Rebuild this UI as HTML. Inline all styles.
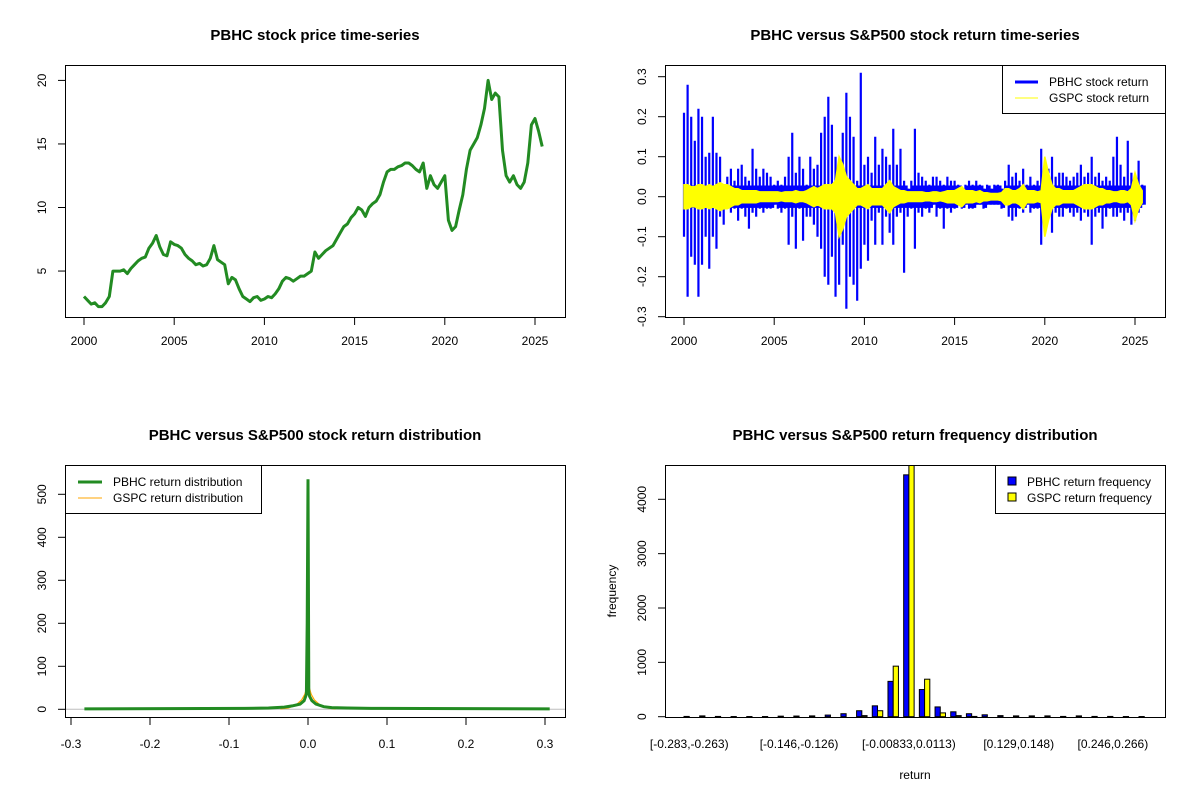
<!DOCTYPE html>
<html><head><meta charset="utf-8"><style>
body{margin:0;background:#fff;}
svg{display:block;font-family:"Liberation Sans",Arial,sans-serif;}
</style></head><body>
<svg id="c" width="1200" height="800" viewBox="0 0 1200 800" xmlns="http://www.w3.org/2000/svg">
<rect width="1200" height="800" fill="#fff"/>
</svg>
<script>
// ---------- data ----------
const priceStartYear = 2000;
const priceStep = 0.2;
const priceValues = [3.0,2.7,2.4,2.5,2.2, 2.2,2.5,3.0,5.0,5.0, 5.0,5.1,4.8,5.2,5.5, 5.8,6.0,6.1,6.8,7.2,
 7.8,6.9,6.3,6.2,7.3, 7.1,7.0,6.8,6.3,6.0, 5.8,5.5,5.6,5.4,5.5, 6.0,7.0,5.9,5.7,5.5,
 4.0,4.5,4.3,3.6,3.0, 2.8,2.6,2.9,3.0,2.7, 2.8,3.0,2.9,3.2,3.6, 4.2,4.5,4.4,4.2,4.4,
 4.6,4.6,4.8,5.0,6.5, 6.0,6.3,6.6,6.8,7.0, 7.5,8.0,8.5,8.7,9.2, 9.5,10.0,9.8,9.3,10.0,
 10.3,10.5,11.0,12.0,12.8, 13.0,13.0,13.2,13.3,13.5, 13.5,13.3,13.0,12.8,13.5, 11.5,12.5,11.8,11.5,12.0,
 12.5,9.0,8.2,8.5,9.8, 11.0,13.0,14.5,15.0,15.5, 16.5,17.8,20.0,18.5,19.0, 18.7,14.5,12.5,12.0,12.5,
 11.8,11.5,12.0,13.5,16.5, 17.0,16.0,14.8];
const retStartYear = 2000;
const retStep = 0.2;
const pbhcUp = [0.21,0.28,0.2,0.14,0.22, 0.2,0.1,0.11,0.2,0.11, 0.1,0.03,0.05,0.07,0.04, 0.07,0.08,0.05,0.04,0.12,
 0.07,0.05,0.07,0.06,0.05, 0.03,0.04,0.03,0.05,0.1, 0.16,0.06,0.1,0.07,0.03, 0.1,0.07,0.08,0.16,0.2,
 0.25,0.18,0.1,0.06,0.16, 0.26,0.2,0.15,0.04,0.31, 0.08,0.1,0.06,0.15,0.08, 0.12,0.1,0.08,0.17,0.08,
 0.12,0.04,0.02,0.04,0.17, 0.06,0.05,0.04,0.03,0.05, 0.05,0.04,0.03,0.05,0.04, 0.04,0.03,0.02,0.03,0.04,
 0.03,0.04,0.03,0.02,0.03, 0.02,0.03,0.03,0.02,0.04, 0.08,0.05,0.06,0.04,0.07, 0.03,0.05,0.03,0.04,0.12,
 0.08,0.07,0.1,0.05,0.06, 0.06,0.05,0.04,0.05,0.06, 0.08,0.05,0.06,0.1,0.05, 0.06,0.04,0.05,0.04,0.1,
 0.15,0.08,0.05,0.14,0.06, 0.05,0.09,0.03];
const pbhcDown = [-0.1,-0.25,-0.15,-0.17,-0.25, -0.17,-0.1,-0.18,-0.1,-0.13, -0.05,-0.07,-0.03,-0.04,-0.03, -0.06,-0.03,-0.05,-0.08,-0.04,
 -0.05,-0.03,-0.04,-0.03,-0.03, -0.02,-0.03,-0.04,-0.03,-0.12, -0.05,-0.13,-0.03,-0.11,-0.05, -0.05,-0.07,-0.1,-0.13,-0.2,
 -0.22,-0.15,-0.25,-0.22,-0.12, -0.28,-0.2,-0.22,-0.26,-0.18, -0.12,-0.16,-0.06,-0.12,-0.04, -0.12,-0.05,-0.09,-0.12,-0.05,
 -0.04,-0.19,-0.05,-0.03,-0.13, -0.04,-0.05,-0.03,-0.04,-0.02, -0.05,-0.03,-0.08,-0.03,-0.04, -0.03,-0.02,-0.03,-0.02,-0.03,
 -0.03,-0.02,-0.02,-0.03,-0.02, -0.02,-0.02,-0.02,-0.03,-0.02, -0.05,-0.06,-0.05,-0.03,-0.04, -0.02,-0.04,-0.03,-0.03,-0.12,
 -0.07,-0.05,-0.09,-0.04,-0.05, -0.05,-0.03,-0.04,-0.05,-0.04, -0.06,-0.04,-0.05,-0.12,-0.05, -0.04,-0.08,-0.05,-0.03,-0.05,
 -0.05,-0.04,-0.06,-0.04,-0.07, -0.06,-0.04,-0.02];
const gspcAmp = [0.03,0.03,0.025,0.025,0.03, 0.03,0.025,0.03,0.025,0.03, 0.035,0.03,0.03,0.025,0.02, 0.02,0.015,0.015,0.015,0.015,
 0.015,0.012,0.012,0.012,0.012, 0.012,0.012,0.01,0.012,0.012, 0.012,0.015,0.012,0.012,0.015, 0.02,0.025,0.02,0.025,0.03,
 0.03,0.03,0.04,0.1,0.08, 0.05,0.04,0.03,0.02,0.02, 0.025,0.03,0.02,0.02,0.02, 0.02,0.03,0.04,0.025,0.02,
 0.015,0.015,0.012,0.012,0.012, 0.012,0.012,0.01,0.01,0.012, 0.012,0.01,0.012,0.015,0.015, 0.015,0.02,0.025,0.015,0.015,
 0.015,0.012,0.015,0.01,0.01, 0.008,0.008,0.008,0.01,0.02, 0.02,0.015,0.015,0.02,0.03, 0.015,0.015,0.015,0.012,0.015,
 0.1,0.06,0.03,0.02,0.02, 0.015,0.015,0.015,0.015,0.02, 0.025,0.03,0.03,0.03,0.025, 0.02,0.02,0.015,0.015,0.012,
 0.012,0.015,0.015,0.012,0.02, 0.06,0.03,0.015];
const densPbhcX = [-0.283,-0.08,-0.05,-0.03,-0.02,-0.01,-0.005,-0.002,-0.001,0,0.0005,0.001,0.002,0.005,0.01,0.02,0.03,0.05,0.08,0.306];
const densPbhcY = [1,2,3,5,8,12,20,35,200,535,300,40,30,20,12,6,4,3,2,1];
const densGspcX = [-0.035,-0.025,-0.015,-0.008,-0.004,-0.002,0,0.002,0.004,0.008,0.015,0.025,0.035];
const densGspcY = [1,3,10,22,35,48,55,48,35,22,10,3,1];
const binLabels = ["[-0.283,-0.263)","[-0.146,-0.126)","[-0.00833,0.0113)","[0.129,0.148)","[0.246,0.266)"];
const binLabelIdx = [0,7,14,21,27];
const pbhcFreq = [5,15,5,3,3,3,10,12,15,30,55,110,200,650,4450,500,180,90,55,35,20,15,15,15,5,15,5,5,3,3];
const gspcFreq = [0,0,0,0,0,0,0,0,0,0,0,20,110,930,4650,690,70,20,5,0,0,0,0,0,0,0,0,0,0,0];

// ---------- helpers ----------
const NS="http://www.w3.org/2000/svg";
const svg=document.getElementById('c');
function mk(tag,attrs,parent){const e=document.createElementNS(NS,tag);for(const k in attrs)e.setAttribute(k,attrs[k]);(parent||svg).appendChild(e);return e;}
function txt(s,x,y,opts,parent){const t=mk('text',Object.assign({x:x,y:y,'font-size':12,'text-anchor':'middle',fill:'#000'},opts||{}),parent);t.textContent=s;return t;}

// ---------- panel 1: price ----------
(function(){
 const g=mk('g',{});
 
 
 const X=y=>84+(y-2000)*18.04, Y=v=>334.6-v*12.71;
 let t=txt('PBHC stock price time-series',315,40,{'font-size':15,'font-weight':'bold'},g);
 
 
 let pts=priceValues.map((v,i)=>X(priceStartYear+i*priceStep).toFixed(1)+','+Y(v).toFixed(1)).join(' ');
 const line=mk('polyline',{points:pts,fill:'none',stroke:'#228B22','stroke-width':3,'stroke-linejoin':'round'},g);
 
 
 const box=mk('rect',{x:65.5,y:65.5,width:500,height:252,fill:'none',stroke:'#000'},g);
 
 
 [2000,2005,2010,2015,2020,2025].forEach(yr=>{mk('line',{x1:X(yr),x2:X(yr),y1:318,y2:325,stroke:'#000'},g);const l=txt(String(yr),X(yr),345,{},g);});
 [5,10,15,20].forEach(v=>{mk('line',{x1:58,x2:65,y1:Y(v),y2:Y(v),stroke:'#000'},g);const l=txt(String(v),0,0,{transform:`translate(46,${Y(v)}) rotate(-90)`},g);});
})();

// ---------- panel 2: returns ----------
(function(){
 const g=mk('g',{});
 
 
 const X=y=>684+(y-2000)*18.04, Y=v=>196.7-v*400;
 let t=txt('PBHC versus S&P500 stock return time-series',915,40,{'font-size':15,'font-weight':'bold'},g);
 
 
 pbhcUp.forEach((u,i)=>{const x=X(retStartYear+i*retStep);
  const b=mk('line',{x1:x,x2:x,y1:Y(u),y2:Y(pbhcDown[i]),stroke:'#0000FF','stroke-width':2.2},g);
  
  
  const c=mk('rect',{x:x,y:Y(Math.min(u,0.028)),width:18.04*retStep,height:Y(Math.max(pbhcDown[i],-0.028))-Y(Math.min(u,0.028)),fill:'#0000FF'},g);
  
  
 });
 let top=gspcAmp.map((a,i)=>X(retStartYear+i*retStep).toFixed(1)+','+Y(a).toFixed(1));
 let bot=gspcAmp.map((a,i)=>X(retStartYear+i*retStep).toFixed(1)+','+Y(-a).toFixed(1)).reverse();
 const band=mk('polygon',{points:top.concat(bot).join(' '),fill:'#FFFF00',stroke:'#FFFF00','stroke-width':1.5},g);
 
 
 const box=mk('rect',{x:665.5,y:65.5,width:500,height:252,fill:'none',stroke:'#000'},g);
 
 
 [2000,2005,2010,2015,2020,2025].forEach(yr=>{mk('line',{x1:X(yr),x2:X(yr),y1:318,y2:325,stroke:'#000'},g);const l=txt(String(yr),X(yr),345,{},g);});
 [-0.3,-0.2,-0.1,0,0.1,0.2,0.3].forEach(v=>{mk('line',{x1:658,x2:665,y1:Y(v),y2:Y(v),stroke:'#000'},g);const l=txt(v.toFixed(1),0,0,{transform:`translate(646,${Y(v)}) rotate(-90)`},g);});
 const lg=mk('g',{},g);
 
 
 mk('rect',{x:1002.5,y:65.5,width:163,height:48,fill:'#fff',stroke:'#000'},lg);
 mk('line',{x1:1015,x2:1038,y1:82,y2:82,stroke:'#0000FF','stroke-width':3},lg);
 mk('line',{x1:1015,x2:1038,y1:98,y2:98,stroke:'#FFFF00','stroke-width':1},lg);
 txt('PBHC stock return',1049,86,{'text-anchor':'start'},lg);
 txt('GSPC stock return',1049,102,{'text-anchor':'start'},lg);
})();

// ---------- panel 3: density ----------
(function(){
 const g=mk('g',{});
 
 
 const X=v=>308+v*790, Y=v=>709.3-v*0.43;
 let t=txt('PBHC versus S&P500 stock return distribution',315,440,{'font-size':15,'font-weight':'bold'},g);
 
 
 const z=mk('line',{x1:66,x2:566,y1:Y(0),y2:Y(0),stroke:'#bebebe'},g);
 
 
 const gp=mk('polyline',{points:densGspcX.map((x,i)=>X(x).toFixed(1)+','+Y(densGspcY[i]).toFixed(1)).join(' '),fill:'none',stroke:'#FFA500','stroke-width':1.2},g);
 
 
 const pp=mk('polyline',{points:densPbhcX.map((x,i)=>X(x).toFixed(1)+','+Y(densPbhcY[i]).toFixed(1)).join(' '),fill:'none',stroke:'#228B22','stroke-width':3},g);
 
 
 const box=mk('rect',{x:65.5,y:465.5,width:500,height:252,fill:'none',stroke:'#000'},g);
 
 
 [-0.3,-0.2,-0.1,0,0.1,0.2,0.3].forEach(v=>{mk('line',{x1:X(v),x2:X(v),y1:718,y2:725,stroke:'#000'},g);const l=txt(v.toFixed(1),X(v),748,{},g);});
 [0,100,200,300,400,500].forEach(v=>{mk('line',{x1:58,x2:65,y1:Y(v),y2:Y(v),stroke:'#000'},g);const l=txt(String(v),0,0,{transform:`translate(46,${Y(v)}) rotate(-90)`},g);});
 const lg=mk('g',{},g);
 
 
 mk('rect',{x:65.5,y:465.5,width:196,height:48,fill:'#fff',stroke:'#000'},lg);
 mk('line',{x1:78,x2:102,y1:482,y2:482,stroke:'#228B22','stroke-width':3},lg);
 mk('line',{x1:78,x2:102,y1:498,y2:498,stroke:'#FFA500','stroke-width':1},lg);
 txt('PBHC return distribution',113,486,{'text-anchor':'start'},lg);
 txt('GSPC return distribution',113,502,{'text-anchor':'start'},lg);
})();

// ---------- panel 4: histogram ----------
(function(){
 const g=mk('g',{});
 
 
 const U=5.23, x0=684-U;
 const Y=v=>716.7-v*0.05435;
 let t=txt('PBHC versus S&P500 return frequency distribution',915,440,{'font-size':15,'font-weight':'bold'},g);
 
 
 const cp=mk('clipPath',{id:'hclip'},g);mk('rect',{x:666,y:466,width:499,height:252},cp);
 const bars=mk('g',{'clip-path':'url(#hclip)'},g);
 pbhcFreq.forEach((f,i)=>{const bx=x0+U*(1+3*i);
  const b=mk('rect',{x:bx,y:Y(f),width:U,height:Y(0)-Y(f),fill:'#0000FF',stroke:'#000','stroke-width':1},bars);
  
  
  const gv=gspcFreq[i];
  const c=mk('rect',{x:bx+U,y:Y(gv),width:U,height:Y(0)-Y(gv),fill:'#FFFF00',stroke:'#000','stroke-width':1},bars);
  
  
 });
 const box=mk('rect',{x:665.5,y:465.5,width:500,height:252,fill:'none',stroke:'#000'},g);
 
 
 binLabelIdx.forEach((bi,k)=>{const l=txt(binLabels[k],x0+U*(2+3*bi),748,{},g);});
 [0,1000,2000,3000,4000].forEach(v=>{mk('line',{x1:658,x2:665,y1:Y(v),y2:Y(v),stroke:'#000'},g);const l=txt(String(v),0,0,{transform:`translate(646,${Y(v)}) rotate(-90)`},g);});
 let xl=txt('return',915,779,{},g);
 
 
 let yl=txt('frequency',0,0,{transform:'translate(616,591) rotate(-90)'},g);
 
 
 const lg=mk('g',{},g);
 
 
 mk('rect',{x:995.5,y:465.5,width:170,height:48,fill:'#fff',stroke:'#000'},lg);
 mk('rect',{x:1008,y:477,width:8,height:8,fill:'#0000FF',stroke:'#000'},lg);
 mk('rect',{x:1008,y:493,width:8,height:8,fill:'#FFFF00',stroke:'#000'},lg);
 txt('PBHC return frequency',1027,486,{'text-anchor':'start'},lg);
 txt('GSPC return frequency',1027,502,{'text-anchor':'start'},lg);
})();
</script>
</body></html>
